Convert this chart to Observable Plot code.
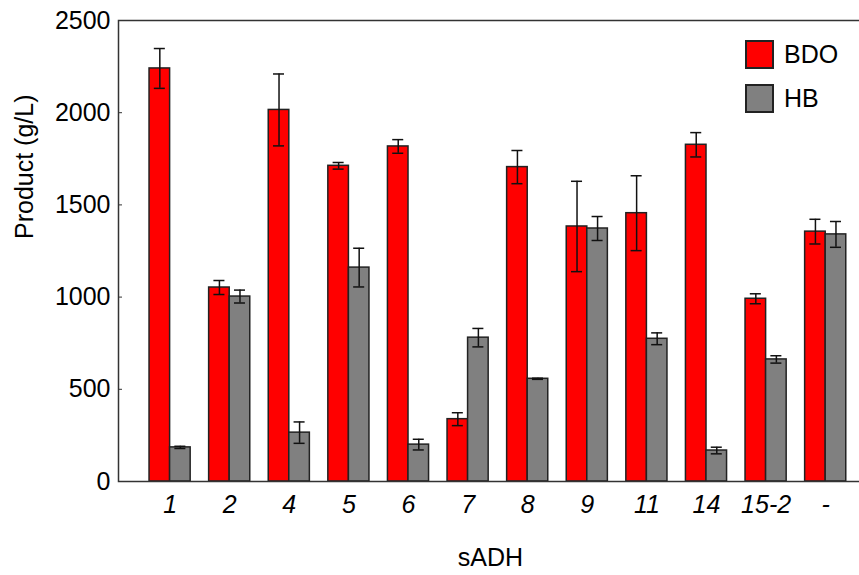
<!DOCTYPE html>
<html>
<head>
<meta charset="utf-8">
<script src="https://cdn.jsdelivr.net/npm/d3@7"></script>
<script src="https://cdn.jsdelivr.net/npm/@observablehq/plot@0.6"></script>
<style>
  html, body { margin: 0; padding: 0; background: #fff; overflow: hidden; }
  #wrap { position: relative; width: 859px; height: 575px; }
  .legend { position: absolute; left: 745px; top: 40px; font-family: 'Liberation Sans', Arial, sans-serif; font-size: 25px; color: #000; }
  .legend .row { display: flex; align-items: center; height: 29px; margin-bottom: 15px; }
  .legend .sw { width: 25px; height: 25px; border: 2px solid #222; margin-right: 10px; box-sizing: content-box; }
</style>
</head>
<body>
<div id="wrap"></div>
<script>
const categories = ["1", "2", "4", "5", "6", "7", "8", "9", "11", "14", "15-2", "-"];
const seriesNames = ["BDO", "HB"];
const bdo    = [2240, 1052, 2015, 1712, 1817, 338, 1705, 1383, 1455, 1826, 991, 1355];
const bdoErr = [108, 38, 195, 18, 37, 35, 90, 245, 203, 66, 27, 67];
const hb     = [185, 1003, 265, 1160, 200, 780, 557, 1372, 774, 168, 662, 1340];
const hbErr  = [6, 35, 58, 105, 29, 50, 3, 65, 32, 18, 20, 70];
const yTicks = [0, 500, 1000, 1500, 2000, 2500];
const colors = ["#ff0000", "#808080"];

const bdoRows = categories.map((c, i) => ({cat: c, value: bdo[i], lo: bdo[i] - bdoErr[i], hi: bdo[i] + bdoErr[i]}));
const hbRows  = categories.map((c, i) => ({cat: c, value: hb[i], lo: hb[i] - hbErr[i], hi: hb[i] + hbErr[i]}));

const half = 20.55;  // half of band width
const off = half / 2; // offset of each bar center from band center
const capIn = 5.5;   // half cap width

function errorBars(rows, left) {
  const insetLeft = left ? half - off - capIn : half + off - capIn;
  const insetRight = left ? half + off - capIn : half - off - capIn;
  return [
    Plot.ruleX(rows, {x: "cat", y1: "lo", y2: "hi", dx: left ? -off : off, stroke: "#111", strokeWidth: 1.5}),
    Plot.tickY(rows, {x: "cat", y: "lo", insetLeft, insetRight, stroke: "#111", strokeWidth: 1.5}),
    Plot.tickY(rows, {x: "cat", y: "hi", insetLeft, insetRight, stroke: "#111", strokeWidth: 1.5})
  ];
}

const chart = Plot.plot({
  width: 859,
  height: 575,
  marginLeft: 118,
  marginRight: -3,
  marginTop: 20,
  marginBottom: 94,
  style: {fontFamily: "'Liberation Sans', Arial, sans-serif", fontSize: "25px", color: "#000", background: "#fff"},
  x: {domain: categories, range: [139.8, 855], paddingInner: 0.31, paddingOuter: 0.155, round: false},
  y: {domain: [0, 2500]},
  marks: [
    Plot.barY(bdoRows, {x: "cat", y: "value", fill: colors[0], stroke: "#222", strokeWidth: 1.5, insetRight: half}),
    Plot.barY(hbRows, {x: "cat", y: "value", fill: colors[1], stroke: "#222", strokeWidth: 1.5, insetLeft: half}),
    ...errorBars(bdoRows, true),
    ...errorBars(hbRows, false),
    Plot.frame({stroke: "#333", strokeWidth: 1.5}),
    Plot.axisY({ticks: yTicks, tickFormat: d3.format("d"), tickSize: -4, tickPadding: 12, label: null, stroke: "#333"}),
    Plot.axisX({tickSize: 0, tickPadding: 14, label: null, fontStyle: "italic"}),
    Plot.text(["Product (g/L)"], {frameAnchor: "left", rotate: -90, dx: -94, dy: -12}),
    Plot.text(["sADH"], {frameAnchor: "bottom", dy: 84})
  ]
});

const wrap = document.getElementById("wrap");
wrap.appendChild(chart);

const legend = document.createElement("div");
legend.className = "legend";
seriesNames.forEach((name, i) => {
  const row = document.createElement("div");
  row.className = "row";
  const sw = document.createElement("div");
  sw.className = "sw";
  sw.style.background = colors[i];
  const t = document.createElement("span");
  t.textContent = name;
  row.appendChild(sw);
  row.appendChild(t);
  legend.appendChild(row);
});
wrap.appendChild(legend);
</script>
</body>
</html>
